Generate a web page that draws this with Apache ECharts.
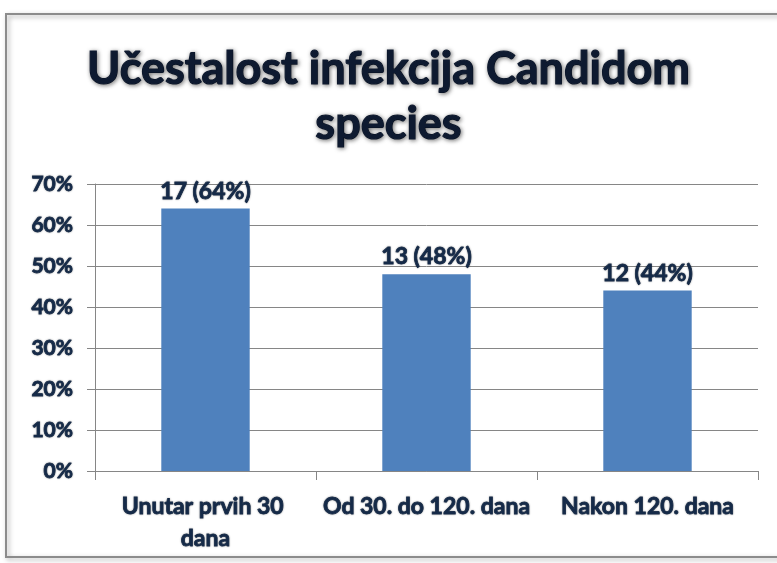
<!DOCTYPE html>
<html>
<head>
<meta charset="utf-8">
<script src="https://cdn.jsdelivr.net/npm/echarts@6/dist/echarts.min.js"></script>
<style>
  html, body { margin: 0; padding: 0; background: #fff; }
  #chart { width: 777px; height: 563px; }
</style>
</head>
<body>
<div id="chart"></div>
<script>
  // podaci sa slike
  var categories = ['Unutar prvih 30 dana', 'Od 30. do 120. dana', 'Nakon 120. dana']
  var percents = [64, 48, 44] // postotak
  var counts = [17, 13, 12] // broj slucajeva
  var yTicks = { min: 0, max: 70, interval: 10 }

  var textColor = '#152a48'
  var font = 'Lato'
  // zajednicki stil za podebljani tekst sa sjenom
  var heavy = {
    fontFamily: font,
    fontWeight: 'bold',
    color: textColor,
    textBorderColor: textColor,
    textBorderWidth: 0.8,
    textShadowColor: 'rgba(0,0,0,0.3)',
    textShadowBlur: 2
  }

  var myChart = echarts.init(document.getElementById('chart'))
  var option = {
    backgroundColor: '#fff',
    animation: false,
    title: {
      text: 'Učestalost infekcija Candidom\nspecies',
      left: 'center',
      top: 37,
      textStyle: {
        fontFamily: font,
        fontSize: 45,
        fontWeight: 'bold',
        color: '#0e1a30',
        lineHeight: 55,
        textBorderColor: '#0e1a30',
        textBorderWidth: 1.2,
        textShadowColor: 'rgba(0,0,0,0.5)',
        textShadowBlur: 4,
        textShadowOffsetX: 1,
        textShadowOffsetY: 1
      }
    },
    graphic: [{
      type: 'rect',
      shape: { x: 6, y: 14, width: 800, height: 543 },
      style: {
        fill: 'none',
        stroke: '#8c8c8c',
        lineWidth: 2,
        shadowColor: 'rgba(0,0,0,0.35)',
        shadowBlur: 5,
        shadowOffsetX: 2,
        shadowOffsetY: 2
      },
      z: -1
    }],
    grid: {
      left: 95,
      right: 19,
      top: 184,
      bottom: 92
    },
    xAxis: {
      type: 'category',
      data: categories,
      boundaryGap: true,
      axisLine: { show: true, lineStyle: { color: '#868686' } },
      axisTick: { show: true, length: 9, lineStyle: { color: '#868686' } },
      axisLabel: Object.assign({}, heavy, {
        interval: 0,
        margin: 20,
        width: 212,
        overflow: 'break',
        fontSize: 23,
        lineHeight: 32
      })
    },
    yAxis: {
      type: 'value',
      min: yTicks.min,
      max: yTicks.max,
      interval: yTicks.interval,
      axisLine: { show: true, lineStyle: { color: '#868686' } },
      axisTick: { show: true, length: 8, lineStyle: { color: '#868686' } },
      axisLabel: Object.assign({}, heavy, {
        formatter: '{value}%',
        margin: 22,
        fontSize: 21
      }),
      splitLine: { show: true, lineStyle: { color: '#868686', width: 1 } }
    },
    series: [{
      type: 'bar',
      data: percents,
      barWidth: '40%',
      itemStyle: { color: '#4f81bd' },
      label: Object.assign({}, heavy, {
        show: true,
        position: 'top',
        distance: 6,
        formatter: function (p) {
          return counts[p.dataIndex] + ' (' + p.value + '%)'
        },
        fontSize: 23
      })
    }]
  }
  myChart.setOption(option)
</script>
</body>
</html>
